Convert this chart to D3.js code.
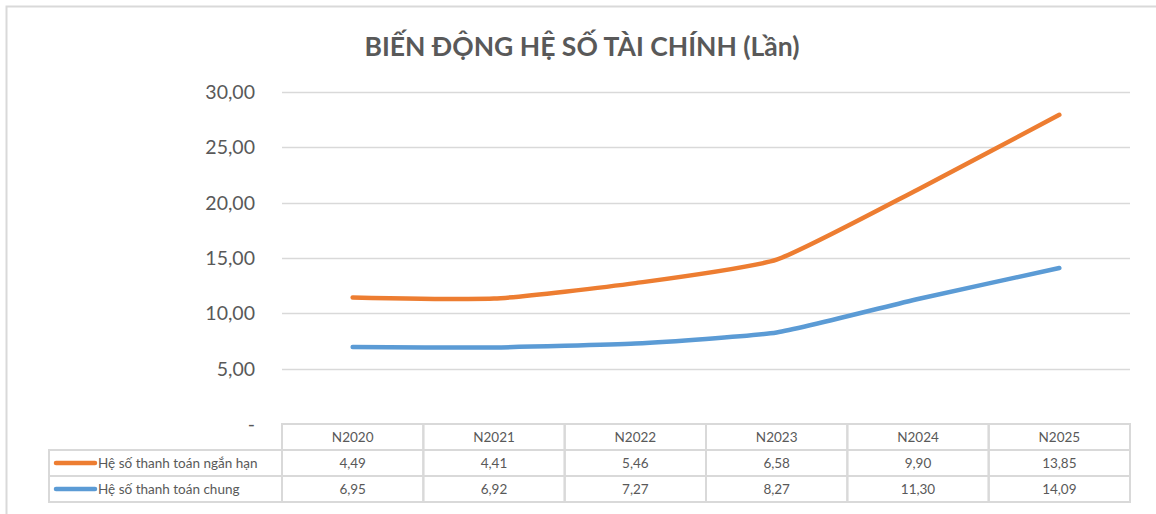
<!DOCTYPE html>
<html lang="vi">
  <head>
    <meta charset="UTF-8" />
    <title>Biến động hệ số tài chính</title>
    <style>
      body { margin: 0; background: #fff; }
      text { font-family: Lato, "Open Sans", sans-serif; fill: #595959; }
    </style>
  </head>
  <body>
    <svg width="1156" height="514"></svg>
    <script src="https://d3js.org/d3.v7.min.js"></script>
    <script>
      // data
      var years = ["N2020", "N2021", "N2022", "N2023", "N2024", "N2025"];
      var nganHan = [4.49, 4.41, 5.46, 6.58, 9.90, 13.85];
      var chung = [6.95, 6.92, 7.27, 8.27, 11.30, 14.09];
      var yTicks = [0, 5, 10, 15, 20, 25, 30];

      var seriesNames = ["Hệ số thanh toán ngắn hạn", "Hệ số thanh toán chung"];
      var seriesColors = ["#ED7D31", "#5B9BD5"];

      var svg = d3.select("svg");
      // plot box (note: "top" is taken by window.top)
      var plotL = 282, plotR = 1130, plotT = 92, plotB = 424;
      var rowH = 26;

      // outer frame (only top and left visible)
      svg.append("path")
        .attr("d", "M6.5,514 V6.5 H1156")
        .attr("fill", "none")
        .attr("stroke", "#D9D9D9")
        .attr("stroke-width", 2);

      svg.append("text")
        .attr("x", 582).attr("y", 56)
        .attr("text-anchor", "middle")
        .style("font-size", "26.5px")
        .style("font-weight", "bold")
        .text("BIẾN ĐỘNG HỆ SỐ TÀI CHÍNH (Lần)");

      var x = d3.scaleBand().domain(years).range([plotL, plotR]);
      var y = d3.scaleLinear().domain([0, 30]).range([plotB, plotT]);

      // gridlines
      svg.append("g").selectAll("line")
        .data(yTicks.filter(d => d > 0))
        .enter().append("line")
        .attr("x1", plotL).attr("x2", plotR)
        .attr("y1", d => Math.round(y(d)) + 0.5).attr("y2", d => Math.round(y(d)) + 0.5)
        .attr("stroke", "#D9D9D9").attr("stroke-width", 1.3);

      // y labels
      var fmt = d => d === 0 ? "-" : d3.format(".2f")(d).replace(".", ",");
      svg.append("g").selectAll("text")
        .data(yTicks)
        .enter().append("text")
        .attr("x", 255).attr("y", d => y(d) + 7)
        .attr("text-anchor", "end")
        .style("font-size", "19.5px")
        .text(fmt);

      // stacked lines: blue at the bottom, orange on top of it
      var stacked = [nganHan.map((v, i) => v + chung[i]), chung];
      var line = d3.line()
        .x((d, i) => x(years[i]) + x.bandwidth() / 2)
        .y(d => y(d))
        .curve(d3.curveCardinal.tension(0.5));

      svg.append("g").selectAll("path")
        .data(stacked)
        .enter().append("path")
        .attr("d", line)
        .attr("fill", "none")
        .attr("stroke", (d, i) => seriesColors[i])
        .attr("stroke-width", 4.5)
        .attr("stroke-linecap", "round")
        .attr("stroke-linejoin", "round");

      // data table
      var tbl = svg.append("g");
      var gridStroke = "#D9D9D9";
      years.forEach(function(yr) {
        tbl.append("rect")
          .attr("x", x(yr)).attr("y", plotB)
          .attr("width", x.bandwidth()).attr("height", rowH)
          .attr("fill", "none").attr("stroke", gridStroke).attr("stroke-width", 2);
        tbl.append("text")
          .attr("x", x(yr) + x.bandwidth() / 2).attr("y", plotB + 18)
          .attr("text-anchor", "middle")
          .style("font-size", "13.5px")
          .text(yr);
      });
      var rows = [nganHan, chung];
      rows.forEach(function(vals, r) {
        var ry = plotB + rowH * (r + 1);
        tbl.append("rect")
          .attr("x", 49).attr("y", ry)
          .attr("width", plotL - 49).attr("height", rowH)
          .attr("fill", "none").attr("stroke", gridStroke).attr("stroke-width", 2);
        tbl.append("line")
          .attr("x1", 56).attr("x2", 95)
          .attr("y1", ry + 13).attr("y2", ry + 13)
          .attr("stroke", seriesColors[r]).attr("stroke-width", 4.5)
          .attr("stroke-linecap", "round");
        tbl.append("text")
          .attr("x", 98).attr("y", ry + 18)
          .style("font-size", "13.5px")
          .text(seriesNames[r]);
        vals.forEach(function(v, i) {
          tbl.append("rect")
            .attr("x", x(years[i])).attr("y", ry)
            .attr("width", x.bandwidth()).attr("height", rowH)
            .attr("fill", "none").attr("stroke", gridStroke).attr("stroke-width", 2);
          tbl.append("text")
            .attr("x", x(years[i]) + x.bandwidth() / 2).attr("y", ry + 18)
            .attr("text-anchor", "middle")
            .style("font-size", "13.5px")
            .text(fmt(v));
        });
      });
    </script>
  </body>
</html>
